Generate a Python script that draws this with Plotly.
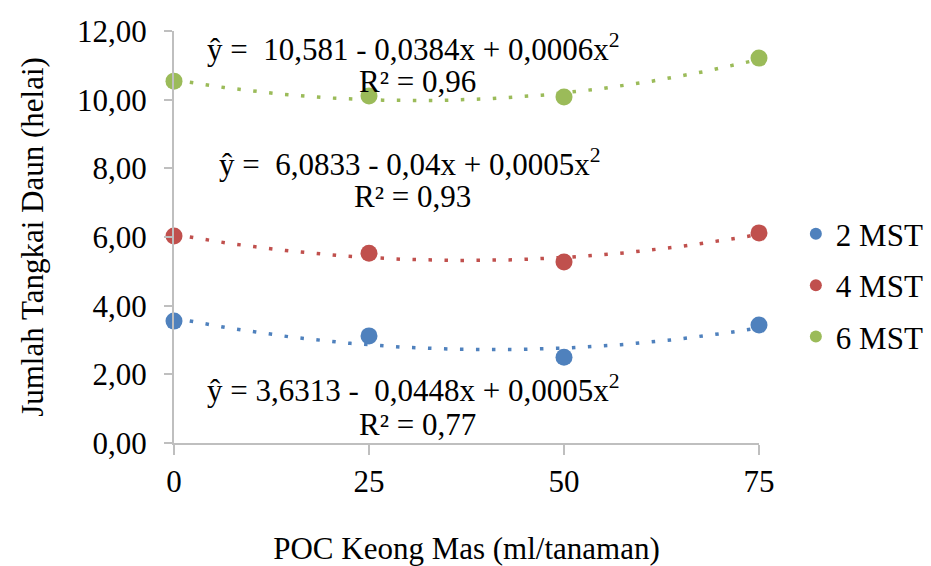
import numpy as np
import plotly.graph_objects as go

x_vals = [0, 25, 50, 75]
series_names = ["2 MST", "4 MST", "6 MST"]
y_2mst = [3.55, 3.12, 2.50, 3.44]
y_4mst = [6.03, 5.53, 5.27, 6.12]
y_6mst = [10.54, 10.11, 10.08, 11.21]
colors = ["#4F81BD", "#C0504D", "#9BBB59"]
eq_texts = [
    "ŷ = 3,6313 -\u00a0 0,0448x + 0,0005x<sup>2</sup>",
    "ŷ =\u00a0 6,0833 - 0,04x + 0,0005x<sup>2</sup>",
    "ŷ =\u00a0 10,581 - 0,0384x + 0,0006x<sup>2</sup>",
]
r2_texts = ["R² = 0,77", "R² = 0,93", "R² = 0,96"]
eq_pos = [(30.7, 1.60), (30.2, 8.16), (30.7, 11.51)]
r2_pos = [(31.2, 0.55), (30.6, 7.17), (31.2, 10.52)]
y_ticks = [0, 2, 4, 6, 8, 10, 12]

FONT = "Liberation Serif"
FS = 31

fig = go.Figure()
xs = np.linspace(0, 75, 200)
for name, ys, c in zip(series_names, [y_2mst, y_4mst, y_6mst], colors):
    coef = np.polyfit(x_vals, ys, 2)
    fig.add_trace(go.Scatter(
        x=xs, y=np.polyval(coef, xs), mode="lines",
        line=dict(color=c, width=3.5, dash="3.5px,12.5px"),
        showlegend=False, hoverinfo="skip", cliponaxis=False,
    ))
for name, ys, c in zip(series_names, [y_2mst, y_4mst, y_6mst], colors):
    fig.add_trace(go.Scatter(
        x=x_vals, y=ys, mode="markers", name=name, legendgroup=name,
        marker=dict(color=c, size=17), cliponaxis=False,
    ))

for txt, (ex, ey) in zip(eq_texts, eq_pos):
    fig.add_annotation(x=ex, y=ey, text=txt, showarrow=False,
                       font=dict(family=FONT, size=FS, color="black"),
                       xanchor="center", yanchor="middle", align="center")
for txt, (ex, ey) in zip(r2_texts, r2_pos):
    fig.add_annotation(x=ex, y=ey, text=txt, showarrow=False,
                       font=dict(family=FONT, size=FS, color="black"),
                       xanchor="center", yanchor="middle", align="center")

fig.update_layout(
    width=931, height=566,
    margin=dict(l=174, r=172, t=31, b=123, autoexpand=False),
    paper_bgcolor="white", plot_bgcolor="white",
    separators=",.",
    font=dict(family=FONT, size=FS, color="black"),
    legend=dict(x=1.063, y=0.383, xanchor="left", yanchor="middle",
                font=dict(family=FONT, size=FS, color="black"),
                itemsizing="constant", traceorder="grouped", tracegroupgap=8),
    xaxis=dict(range=[0, 75], tickvals=x_vals, ticktext=[str(v) for v in x_vals],
               showgrid=False, zeroline=False, showline=True, automargin=False,
               linecolor="#BFBFBF", linewidth=2, ticks="outside",
               ticklen=10, tickcolor="#BFBFBF", tickwidth=2,
               title=dict(text="POC Keong Mas (ml/tanaman)", standoff=40,
                          font=dict(family=FONT, size=FS)),
               tickfont=dict(family=FONT, size=FS)),
    yaxis=dict(range=[0, 12], tickvals=y_ticks, tickformat=".2f",
               showgrid=False, zeroline=False, showline=True, automargin=False,
               linecolor="#BFBFBF", linewidth=2, ticks="outside",
               ticklen=8, tickcolor="#BFBFBF", tickwidth=2,
               ticklabelstandoff=11,
               title=dict(text="Jumlah Tangkai Daun (helai)", standoff=24,
                          font=dict(family=FONT, size=FS)),
               tickfont=dict(family=FONT, size=FS)),
)

fig.write_html("out.html")
